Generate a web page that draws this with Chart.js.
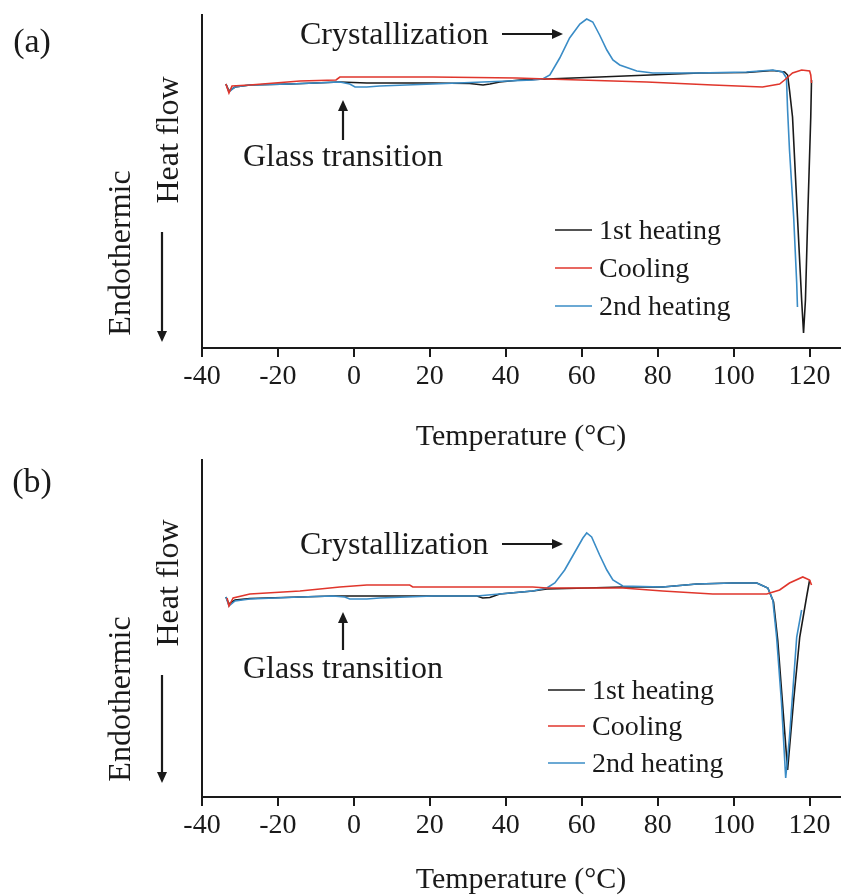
<!DOCTYPE html>
<html>
<head>
<meta charset="utf-8">
<script src="https://cdn.jsdelivr.net/npm/chart.js@4.4.0/dist/chart.umd.min.js"></script>
<style>
  body { margin: 0; background: #fff; }
  canvas { display: block; }
</style>
</head>
<body>
<canvas id="chartA" width="842" height="452"></canvas>
<canvas id="chartB" width="842" height="443"></canvas>
<script>
const tempTicks = [-40, -20, 0, 20, 40, 60, 80, 100, 120];
const seriesNames = ['1st heating', 'Cooling', '2nd heating'];

// panel (a)
const tempA1 = [-33.7, -32.9, -31.3, -27.4, -16.8, -3.7, 3.4, 20.8, 30.5, 34.0, 35.8, 38.4, 43.7, 47.1, 54.2, 64.7, 77.9, 91.1, 103.4, 110.3, 113.4, 114.2, 114.7, 115.5, 116.8, 117.9, 118.4, 118.9, 119.5, 120.3, 120.5];
const flowA1 = [26.4, 25.7, 26.1, 26.3, 26.4, 26.6, 26.5, 26.5, 26.45, 26.3, 26.4, 26.6, 26.8, 26.85, 26.95, 27.1, 27.3, 27.5, 27.55, 27.75, 27.6, 27.3, 25.8, 23.1, 13.1, 4.8, 1.5, 4.8, 13.1, 23.1, 26.8];
const tempAc = [120.5, 120.3, 120.0, 117.9, 115.5, 113.4, 112.1, 107.6, 94.5, 77.1, 50.8, 42.9, 20.8, -3.7, -4.7, -14.2, -27.4, -32.1, -32.9, -33.7];
const flowAc = [26.5, 27.3, 27.7, 27.8, 27.5, 26.8, 26.4, 26.1, 26.3, 26.6, 26.9, 27.0, 27.1, 27.1, 26.8, 26.7, 26.3, 26.2, 25.5, 26.4];
const tempA2 = [-33.7, -32.9, -31.3, -27.4, -16.8, -3.7, -1.1, 0.3, 3.4, 6.8, 20.8, 34.0, 47.1, 49.7, 51.6, 54.2, 56.8, 59.5, 61.3, 62.9, 64.7, 66.6, 68.2, 70.0, 74.5, 78.7, 90.3, 103.4, 110.3, 112.9, 113.9, 114.2, 114.7, 115.8, 116.6, 116.8];
const flowA2 = [26.4, 25.6, 26.1, 26.3, 26.4, 26.6, 26.4, 26.1, 26.1, 26.2, 26.4, 26.6, 26.8, 26.9, 27.3, 29.0, 31.0, 32.4, 32.9, 32.6, 31.3, 29.8, 28.8, 28.3, 27.7, 27.5, 27.5, 27.6, 27.8, 27.6, 27.0, 23.8, 19.8, 13.1, 6.5, 4.1];

// panel (b)
const tempB1 = [-33.7, -32.9, -31.3, -27.4, -5.5, 20.8, 32.4, 33.9, 35.8, 38.4, 47.1, 50.8, 61.3, 70.8, 81.3, 90.3, 99.7, 106.1, 109.0, 110.5, 111.6, 112.9, 114.2, 115.8, 117.4, 119.2, 120.0];
const flowB1 = [20.0, 19.3, 19.7, 19.85, 20.1, 20.1, 20.1, 19.9, 19.95, 20.3, 20.6, 20.8, 20.9, 21.0, 21.0, 21.3, 21.4, 21.4, 20.9, 19.5, 15.7, 9.2, 2.7, 9.7, 16.0, 20.0, 21.7];
const tempBc = [120.5, 120.0, 118.2, 114.7, 112.1, 108.7, 94.5, 81.3, 70.8, 50.8, 47.1, 15.5, 14.7, 3.4, -3.7, -14.2, -27.4, -31.8, -32.9, -33.4];
const flowBc = [21.2, 21.7, 22.0, 21.4, 20.7, 20.3, 20.3, 20.6, 20.9, 20.9, 21.0, 21.0, 21.2, 21.2, 21.0, 20.6, 20.3, 19.9, 19.1, 19.9];
const tempB2 = [-33.7, -32.9, -31.3, -27.4, -14.2, -5.5, -2.4, -1.1, 3.4, 6.8, 20.8, 32.4, 47.1, 50.8, 52.9, 55.5, 58.2, 60.3, 61.3, 62.6, 64.7, 66.6, 68.2, 70.8, 81.3, 90.3, 99.7, 106.1, 109.0, 110.3, 111.3, 112.6, 113.7, 114.7, 116.6, 117.9];
const flowB2 = [20.0, 19.1, 19.6, 19.8, 20.0, 20.1, 20.0, 19.8, 19.8, 19.9, 20.1, 20.1, 20.6, 20.9, 21.4, 22.7, 24.5, 25.9, 26.4, 26.0, 24.2, 22.7, 21.7, 21.1, 21.0, 21.3, 21.4, 21.4, 20.9, 19.7, 16.0, 9.4, 1.9, 6.0, 16.0, 18.7];

const FONT = '"Liberation Serif", "Times New Roman", serif';
const INK = '#1a1a1a';
const colors = ['#1a1a1a', '#e0362c', '#3a8cc6'];

function pts(xs, ys) {
  return xs.map((x, i) => ({ x: x, y: ys[i] }));
}

function arrow(ctx, x1, y1, x2, y2) {
  const a = Math.atan2(y2 - y1, x2 - x1);
  const head = 11;
  ctx.beginPath();
  ctx.moveTo(x1, y1);
  ctx.lineTo(x2 - Math.cos(a) * head * 0.8, y2 - Math.sin(a) * head * 0.8);
  ctx.stroke();
  ctx.beginPath();
  ctx.moveTo(x2, y2);
  ctx.lineTo(x2 - head * Math.cos(a) + 5 * Math.sin(a), y2 - head * Math.sin(a) - 5 * Math.cos(a));
  ctx.lineTo(x2 - head * Math.cos(a) - 5 * Math.sin(a), y2 - head * Math.sin(a) + 5 * Math.cos(a));
  ctx.closePath();
  ctx.fill();
}

// texts and arrows drawn on top of each panel
const notes = {
  id: 'notes',
  afterDraw(chart, args, o) {
    const ctx = chart.ctx;
    ctx.save();
    ctx.fillStyle = INK;
    ctx.strokeStyle = INK;
    ctx.lineWidth = 2.2;
    ctx.textBaseline = 'middle';

    ctx.font = '34px ' + FONT;
    ctx.textAlign = 'center';
    ctx.fillText(o.tag, 32, o.tagY);

    ctx.font = '32px ' + FONT;
    ctx.save();
    ctx.translate(170, o.heatY);
    ctx.rotate(-Math.PI / 2);
    ctx.fillText('Heat flow', 0, 0);
    ctx.restore();
    ctx.save();
    ctx.translate(122, o.endoY);
    ctx.rotate(-Math.PI / 2);
    ctx.fillText('Endothermic', 0, 0);
    ctx.restore();
    arrow(ctx, 162, o.downArrow[0], 162, o.downArrow[1]);

    ctx.textAlign = 'left';
    ctx.fillText('Crystallization', 300, o.crystY);
    arrow(ctx, 502, o.crystY - 2, 563, o.crystY - 2);
    ctx.fillText('Glass transition', 243, o.glassY);
    arrow(ctx, 343, o.upArrow[1], 343, o.upArrow[0]);

    ctx.font = '28px ' + FONT;
    ctx.lineWidth = 1.6;
    chart.data.datasets.forEach((ds, i) => {
      const y = o.legendY[i];
      ctx.strokeStyle = ds.borderColor;
      ctx.beginPath();
      ctx.moveTo(o.legendX, y - 2);
      ctx.lineTo(o.legendX + 37, y - 2);
      ctx.stroke();
      ctx.fillText(ds.label, o.legendX + 44, y);
    });
    ctx.restore();
  }
};

function makePanel(id, series, yMax, topPad, axisH, note) {
  const datasets = series.map((s, i) => ({
    label: seriesNames[i],
    data: pts(s[0], s[1]),
    borderColor: colors[i],
    borderWidth: 1.6,
    pointRadius: 0,
    tension: 0,
    fill: false,
    order: [3, 1, 2][i]
  }));
  return new Chart(document.getElementById(id), {
    type: 'line',
    data: { datasets: datasets },
    options: {
      responsive: false,
      animation: false,
      layout: { padding: { top: topPad, right: 2, left: 0, bottom: 0 } },
      plugins: { legend: { display: false }, tooltip: { enabled: false }, notes: note },
      scales: {
        x: {
          type: 'linear',
          min: -40,
          max: 128,
          afterBuildTicks: s => { s.ticks = tempTicks.map(v => ({ value: v })); },
          afterFit: s => { s.height = axisH; },
          grid: { drawOnChartArea: false, drawTicks: true, tickLength: 9, color: INK, lineWidth: 2 },
          border: { color: INK, width: 2 },
          ticks: { color: INK, font: { family: FONT, size: 28 }, padding: 3, maxRotation: 0, autoSkip: false },
          title: { display: true, text: 'Temperature (°C)', color: INK, font: { family: FONT, size: 30, lineHeight: 1 }, padding: 0 }
        },
        y: {
          min: 0,
          max: yMax,
          afterFit: s => { s.width = 202; },
          ticks: { display: false },
          grid: { display: false },
          border: { display: true, color: INK, width: 2 }
        }
      }
    },
    plugins: [notes]
  });
}

makePanel('chartA', [[tempA1, flowA1], [tempAc, flowAc], [tempA2, flowA2]], 33.3, 15, 104, {
  tag: '(a)', tagY: 43, heatY: 140, endoY: 253, downArrow: [232, 342],
  crystY: 36, glassY: 158, upArrow: [100, 140],
  legendX: 555, legendY: [232, 270, 308]
});

makePanel('chartB', [[tempB1, flowB1], [tempBc, flowBc], [tempB2, flowB2]], 33.7, 8, 98, {
  tag: '(b)', tagY: 31, heatY: 131, endoY: 247, downArrow: [223, 331],
  crystY: 94, glassY: 218, upArrow: [160, 198],
  legendX: 548, legendY: [240, 276, 313]
});
</script>
</body>
</html>
